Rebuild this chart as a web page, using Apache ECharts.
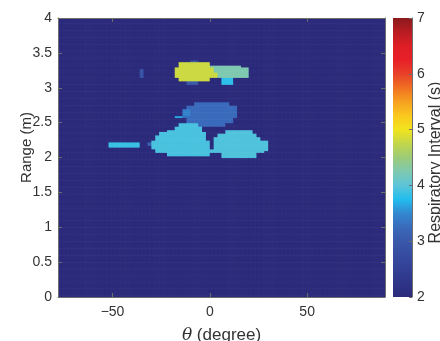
<!DOCTYPE html>
<html><head><meta charset="utf-8">
<script src="https://cdn.jsdelivr.net/npm/echarts@6/dist/echarts.min.js"></script>
<style>html,body{margin:0;padding:0;background:#fff}#c{width:440px;height:341px}</style>
</head><body><div id="c"></div>
<script>
// ---- axis extents and grid resolution ----
const thetaLimits = [-78, 90];
const rangeLimits = [0, 4];
const thetaStep = 2;
const rangeStep = 0.025;
const backgroundValue = 2;
const thetaTicks = [-50, 0, 50];
const rangeTicks = [0, 0.5, 1, 1.5, 2, 2.5, 3, 3.5, 4];
const colorTicks = [2, 3, 4, 5, 6, 7];
const colorLimits = [2, 7];

// ---- regions: [thetaFrom, thetaTo, rangeFrom, rangeTo, interval(s)] ----
const topCluster = [
  [0, 16, 3.30, 3.33, 4.25],
  [2, 20, 3.16, 3.30, 4.25],
  [2, 18, 3.14, 3.16, 4.25],
  [6, 12, 3.06, 3.15, 3.8],
  [-16, 0, 3.30, 3.37, 4.8],
  [-18, 2, 3.23, 3.30, 4.8],
  [-18, 4, 3.16, 3.23, 4.8],
  [-16, 0, 3.10, 3.16, 4.8],
  [-10, -6, 3.37, 3.41, 2.9],
  [-12, -6, 3.06, 3.10, 3.0],
  [-36, -34, 3.14, 3.27, 2.9]
];
const middleBlob = [
  [-8, 10, 2.75, 2.80, 3.25],
  [-12, 14, 2.71, 2.75, 3.25],
  [-14, 14, 2.58, 2.71, 3.25],
  [-12, 12, 2.51, 2.58, 3.25],
  [-6, 8, 2.44, 2.51, 3.25],
  [-14, -10, 2.60, 2.70, 3.45],
  [-18, -14, 2.57, 2.61, 3.7]
];
const leftMound = [
  [-16, -6, 2.45, 2.50, 3.92],
  [-18, -4, 2.41, 2.45, 3.92],
  [-22, -4, 2.37, 2.41, 3.92],
  [-26, -2, 2.32, 2.37, 3.92],
  [-28, -2, 2.25, 2.32, 3.92],
  [-30, 0, 2.13, 2.25, 3.92],
  [-28, 2, 2.07, 2.13, 3.92],
  [-22, 0, 2.02, 2.07, 3.92]
];
const rightMound = [
  [8, 22, 2.36, 2.40, 3.95],
  [4, 24, 2.31, 2.36, 3.95],
  [2, 26, 2.24, 2.31, 3.95],
  [2, 30, 2.11, 2.24, 3.95],
  [0, 28, 2.07, 2.11, 3.95],
  [6, 24, 2.01, 2.07, 3.95]
];
const leftBar = [
  [-52, -36, 2.14, 2.22, 3.85],
  [-32, -30, 2.18, 2.22, 3.1]
];

// colormap stops (value -> colour)
const cmapValues = [2.0, 2.25, 2.5, 2.75, 3.0, 3.25, 3.5, 3.75, 4.0, 4.25, 4.5, 4.75, 5.0, 5.25, 5.5, 5.75, 6.0, 6.25, 6.5, 6.75, 7.0];
const cmapColors = ['#2b2a7b', '#2e3588', '#324095', '#364ca0', '#3a58aa', '#3a6abb', '#3388d0', '#22bdee', '#5cc4d8', '#7ec9b0', '#9ccb78', '#c2d64a', '#f2e41e', '#fac81e', '#f6a020', '#f07022', '#e8402a', '#e82028', '#de1e26', '#b81c22', '#8a1a1c'];

// ---- build cells ----
const nTheta = Math.round((thetaLimits[1] - thetaLimits[0]) / thetaStep);
const nRange = Math.round((rangeLimits[1] - rangeLimits[0]) / rangeStep);
const patches = [].concat(topCluster, middleBlob, leftMound, rightMound, leftBar);
const cells = [];
for (let i = 0; i < nTheta; i++) {
  const tc = thetaLimits[0] + (i + 0.5) * thetaStep;
  for (let j = 0; j < nRange; j++) {
    const rc = rangeLimits[0] + (j + 0.5) * rangeStep;
    let v = backgroundValue;
    for (const p of patches) {
      if (tc > p[0] && tc < p[1] && rc > p[2] && rc < p[3]) v = p[4];
    }
    cells.push([tc, rc, v]);
  }
}

const txt = '#333';
const lineCol = '#6e6e6e';
const font = "'Liberation Sans', Arial, sans-serif";
const minus = v => String(v).replace('-', '\u2212');

const chart = echarts.init(document.getElementById('c'), null, {renderer: 'canvas'});
chart.setOption({
  animation: false,
  grid: [
    {left: 58, top: 18, width: 327, height: 279, containLabel: false, outerBoundsMode: 'none'},
    {left: 393, top: 18, width: 19, height: 279, containLabel: false, outerBoundsMode: 'none'}
  ],
  visualMap: {
    type: 'continuous', show: false, min: colorLimits[0], max: colorLimits[1],
    dimension: 2, seriesIndex: 0, inRange: {color: cmapColors}
  },
  xAxis: [
    {gridIndex: 0, type: 'value', min: thetaLimits[0], max: thetaLimits[1], z: 10,
     splitLine: {show: false},
     axisLine: {show: true, onZero: false, lineStyle: {color: lineCol, width: 1}},
     axisTick: {show: true, inside: true, length: 4, customValues: thetaTicks, lineStyle: {color: lineCol}},
     axisLabel: {customValues: thetaTicks, color: txt, fontSize: 14, fontFamily: font, margin: 8, formatter: minus},
     name: '{t|\u03b8} (degree)', nameLocation: 'middle', nameGap: 30, nameMoveOverlap: false,
     nameTextStyle: {color: txt, fontSize: 17, fontFamily: font, verticalAlign: 'top',
       rich: {t: {fontFamily: "'DejaVu Serif', serif", fontStyle: 'italic', fontSize: 17, color: txt, verticalAlign: 'top'}}}},
    {gridIndex: 0, type: 'value', position: 'top', min: thetaLimits[0], max: thetaLimits[1], z: 10,
     splitLine: {show: false},
     axisLine: {show: true, onZero: false, lineStyle: {color: lineCol, width: 1}},
     axisTick: {show: true, inside: true, length: 4, customValues: thetaTicks, lineStyle: {color: lineCol}},
     axisLabel: {show: false}},
    {gridIndex: 1, type: 'value', min: 0, max: 1, show: false}
  ],
  yAxis: [
    {gridIndex: 0, type: 'value', min: rangeLimits[0], max: rangeLimits[1], interval: 0.5, z: 10,
     splitLine: {show: false},
     axisLine: {show: true, onZero: false, lineStyle: {color: lineCol, width: 1}},
     axisTick: {show: true, inside: true, length: 4, lineStyle: {color: lineCol}},
     axisLabel: {color: txt, fontSize: 14, fontFamily: font, margin: 6},
     name: 'Range (m)', nameLocation: 'middle', nameGap: 24, nameMoveOverlap: false,
     nameTextStyle: {color: txt, fontSize: 15, fontFamily: font, padding: [0, 0, 0, 20]}},
    {gridIndex: 0, type: 'value', position: 'right', min: rangeLimits[0], max: rangeLimits[1], interval: 0.5, z: 10,
     splitLine: {show: false},
     axisLine: {show: true, onZero: false, lineStyle: {color: lineCol, width: 1}},
     axisTick: {show: true, inside: true, length: 4, lineStyle: {color: lineCol}},
     axisLabel: {show: false}},
    {gridIndex: 1, type: 'value', position: 'right', min: colorLimits[0], max: colorLimits[1], interval: 1, z: 10,
     splitLine: {show: false},
     axisLine: {show: true, onZero: false, lineStyle: {color: lineCol, width: 1}},
     axisTick: {show: true, inside: true, length: 3, lineStyle: {color: lineCol}},
     axisLabel: {color: txt, fontSize: 14, fontFamily: font, margin: 5},
     name: 'Respiratory Interval (s)', nameLocation: 'middle', nameGap: 16, nameMoveOverlap: false,
     nameTextStyle: {color: txt, fontSize: 16, fontFamily: font, padding: [0, 10, 0, 0]}}
  ],
  series: [
    {
      type: 'custom', xAxisIndex: 0, yAxisIndex: 0, z: 1, clip: true,
      progressive: 0, silent: true,
      data: cells,
      renderItem: function (params, api) {
        const t = api.value(0), r = api.value(1);
        const p0 = api.coord([t - thetaStep / 2, r + rangeStep / 2]);
        const p1 = api.coord([t + thetaStep / 2, r - rangeStep / 2]);
        return {type: 'rect',
          shape: {x: p0[0], y: p0[1], width: p1[0] - p0[0] + 0.6, height: p1[1] - p0[1] + 0.6},
          style: {fill: api.visual('color')}};
      }
    },
    {
      type: 'custom', xAxisIndex: 2, yAxisIndex: 2, z: 1, silent: true,
      data: [[0, colorLimits[0], 1, colorLimits[1]]],
      renderItem: function (params, api) {
        const p0 = api.coord([api.value(0), api.value(3)]);
        const p1 = api.coord([api.value(2), api.value(1)]);
        const span = colorLimits[1] - colorLimits[0];
        const stops = cmapValues.map((v, k) => ({offset: (v - colorLimits[0]) / span, color: cmapColors[k]}));
        return {type: 'rect',
          shape: {x: p0[0], y: p0[1], width: p1[0] - p0[0], height: p1[1] - p0[1]},
          style: {fill: new echarts.graphic.LinearGradient(0, 1, 0, 0, stops)}};
      }
    }
  ]
});
</script></body></html>
